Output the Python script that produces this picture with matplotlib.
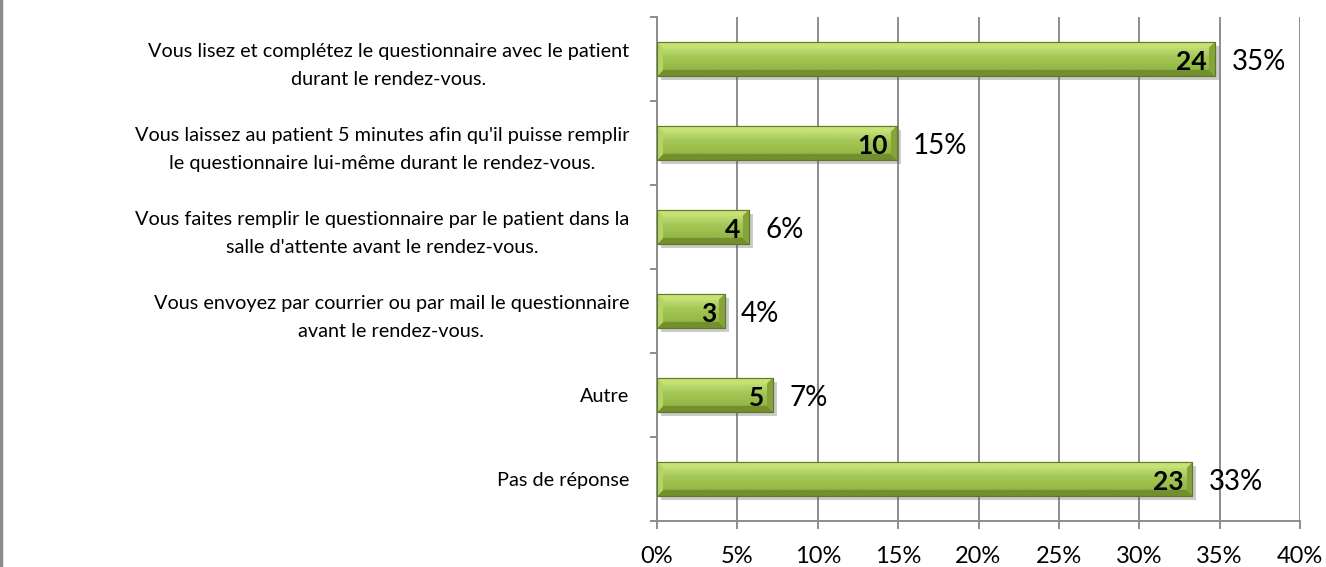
import numpy as np
import matplotlib
matplotlib.use("Agg")
import matplotlib.pyplot as plt
import matplotlib.patheffects as pe
from matplotlib.colors import to_rgb

# ---- data ----
categories = [
    "Vous lisez et complétez le questionnaire avec le patient\ndurant le rendez-vous.",
    "Vous laissez au patient 5 minutes afin qu'il puisse remplir\nle questionnaire lui-même durant le rendez-vous.",
    "Vous faites remplir le questionnaire par le patient dans la\nsalle d'attente avant le rendez-vous.",
    "Vous envoyez par courrier ou par mail le questionnaire\navant le rendez-vous.",
    "Autre",
    "Pas de réponse",
]
counts = [24, 10, 4, 3, 5, 23]
percents = [34.7, 14.9, 5.7, 4.2, 7.2, 33.3]
xticks = [0, 5, 10, 15, 20, 25, 30, 35, 40]

plt.rcParams['font.family'] = ['Lato', 'DejaVu Sans']

W, H = 1326, 567
fig = plt.figure(figsize=(W / 100, H / 100), dpi=100)
ax = fig.add_axes([657 / W, 1 - 521 / H, (1300 - 657) / W, (521 - 17) / H])

n = len(categories)
ypos = np.arange(n)
bar_h = 0.40
xmax = 40
ax.set_xlim(0, xmax)
ax.set_ylim(n - 0.5, -0.5)

grid_col = '#8c8c8c'
for t in xticks:
    ax.axvline(t, color=grid_col, lw=1.4, zorder=0)

# gradient bar image builder (pixels)
def bar_image(wpx, hpx):
    top = np.array(to_rgb('#cfe985'))
    mid = np.array(to_rgb('#a3c655'))
    low = np.array(to_rgb('#90b242'))
    bot = np.array(to_rgb('#728f2e'))
    yy = np.linspace(0, 1, hpx)[:, None]
    prof = np.where(yy < 0.45,
                    top + (mid - top) * np.clip(yy / 0.45, 0, 1),
                    mid + (low - mid) * np.clip((yy - 0.45) / 0.45, 0, 1))
    prof = np.where(yy > 0.88, bot, prof)
    img = np.repeat(prof[:, None, :], wpx, axis=1).copy()
    b = 6
    rows = np.arange(hpx)[:, None]
    cols = np.arange(wpx)[None, :]
    topmask = np.broadcast_to(rows < b, (hpx, wpx))
    img[topmask] = np.array(to_rgb('#c6e174'))
    botmask = np.broadcast_to(rows >= hpx - b, (hpx, wpx))
    img[botmask] = np.array(to_rgb('#738f2e'))
    left = (cols < b) & (cols < rows + 1) & (cols < hpx - rows)
    img[left] = np.array(to_rgb('#b5d465'))
    right = (cols >= wpx - b) & (wpx - 1 - cols < rows + 1) & (wpx - 1 - cols < hpx - rows)
    img[right] = np.array(to_rgb('#86a43a'))
    return img

px_per_unit = (1300 - 657) / xmax
px_per_cat = (521 - 17) / n
for i, (c, p) in enumerate(zip(counts, percents)):
    bars = ax.barh(i, p, height=bar_h, color='#9bbf4f', edgecolor='#5f7a25',
                   lw=0.8, zorder=2,
                   path_effects=[pe.SimplePatchShadow(offset=(3, -3), shadow_rgbFace='#555555', alpha=0.3),
                                 pe.Normal()])
    patch = bars[0]
    wpx = max(int(p * px_per_unit), 2)
    hpx = int(bar_h * px_per_cat)
    im = ax.imshow(bar_image(wpx, hpx), extent=(0, p, i + bar_h / 2, i - bar_h / 2),
                   aspect='auto', zorder=3, interpolation='bilinear')
    im.set_clip_path(patch)
    ax.barh(i, p, height=bar_h, facecolor='none', edgecolor='#5f7a25', lw=0.8, zorder=4)
    ax.annotate(str(c), xy=(p, i), xytext=(-6, -2), textcoords='offset points',
                ha='right', va='center', fontsize=19, fontweight='bold', color='black', zorder=5)
    ax.annotate(f"{round(p)}%", xy=(p, i), xytext=(12, -2.5), textcoords='offset points',
                ha='left', va='center', fontsize=20, color='black', zorder=5)

ax.set_yticks(np.arange(n + 1) - 0.5, minor=False)
ax.set_yticklabels([])
ax.set_yticks(ypos, minor=True)
ax.set_yticklabels(categories, minor=True, fontsize=14.3, multialignment='center',
                   linespacing=1.78)
ax.tick_params(axis='y', which='minor', length=0, pad=20)
ax.tick_params(axis='y', which='major', length=5, color=grid_col, width=1.4, direction='out')

ax.set_xticks(xticks)
ax.set_xticklabels([f"{t}%" for t in xticks], fontsize=17)
ax.tick_params(axis='x', length=6, color=grid_col, width=1.4, direction='out', pad=12)

for s in ['top', 'right']:
    ax.spines[s].set_visible(False)
for s in ['left', 'bottom']:
    ax.spines[s].set_color(grid_col)
    ax.spines[s].set_linewidth(1.4)
ax.set_axisbelow(True)

fig.add_artist(plt.Line2D([0.001, 0.001], [0, 1], transform=fig.transFigure, color='#8c8c8c', lw=2.5))

fig.savefig('out.png', dpi=100)
